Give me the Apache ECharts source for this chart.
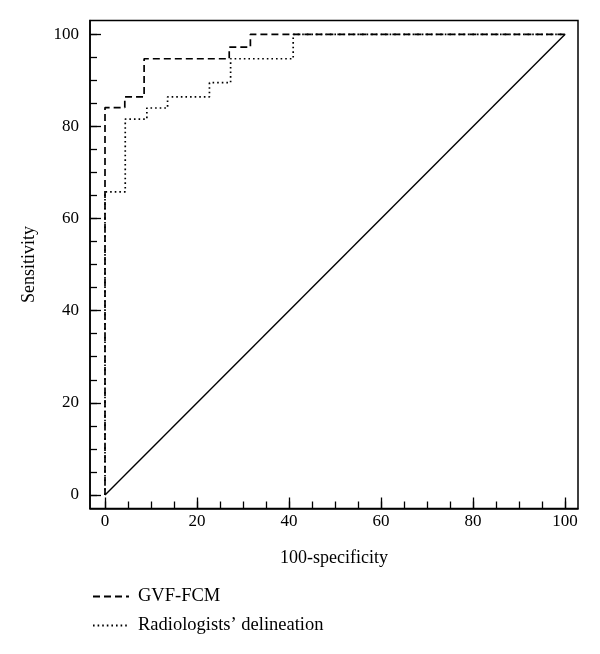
<!DOCTYPE html>
<html>
<head>
<meta charset="utf-8">
<script src="https://cdn.jsdelivr.net/npm/echarts@6/dist/echarts.min.js"></script>
<style>html,body{margin:0;padding:0;background:#fff}#c{width:600px;height:654px}</style>
</head>
<body>
<div id="c"></div>
<script>
// Data
var gvfX = [0, 0, 4.3, 4.3, 8.5, 8.5, 27.0, 27.0, 31.6, 31.6, 100];
var gvfY = [0, 84.1, 84.1, 86.4, 86.4, 94.7, 94.7, 97.2, 97.2, 100, 100];
var radX = [0, 0, 4.4, 4.4, 9.1, 9.1, 13.6, 13.6, 22.7, 22.7, 27.3, 27.3, 40.9, 40.9, 100];
var radY = [0, 65.8, 65.8, 81.6, 81.6, 84.0, 84.0, 86.4, 86.4, 89.5, 89.5, 94.7, 94.7, 100, 100];
var refX = [0, 100];
var refY = [0, 100];
var majorTicks = [0, 20, 40, 60, 80, 100];
var minorTicks = [0,5,10,15,20,25,30,35,40,45,50,55,60,65,70,75,80,85,90,95,100];
var seriesNames = ['GVF-FCM', "Radiologists\u2019 delineation"];
var xName = '100-specificity';
var yName = 'Sensitivity';

function pairs(xs, ys){ return xs.map(function(x,i){ return [x, ys[i]]; }); }

var FONT = 'Liberation Serif';
var chart = echarts.init(document.getElementById('c'), null, {renderer:'canvas'});
var axMin = -3.26, axMax = 102.8, ayMin = -2.95, ayMax = 103.0;
function baseAxis(isX, major){
  return {
    type: 'value', gridIndex: 0,
    min: isX ? axMin : ayMin, max: isX ? axMax : ayMax,
    position: isX ? 'bottom' : 'left',
    splitLine: {show:false},
    axisLine: {show: major, onZero:false, lineStyle:{color:'#000', width:1.5}},
    axisTick: {show:true, inside:true, length: major ? 11 : 7, customValues: major ? majorTicks : minorTicks,
      lineStyle:{color:'#000', width:1.3}},
    axisLabel: major ? {show:true, customValues: majorTicks, color:'#000', fontFamily:FONT, fontSize:17, margin: isX ? 5 : 11} : {show:false},
    name: major ? (isX ? xName : yName) : '',
    nameLocation: 'middle',
    nameGap: isX ? 41 : 52,
    nameTextStyle: {color:'#000', fontFamily:FONT, fontSize:18}
  };
}
chart.setOption({
  animation: false,
  backgroundColor: '#fff',
  grid: {left:90, top:20.5, width:488, height:488, show:true, borderColor:'#000', borderWidth:1.5, backgroundColor:'transparent'},
  xAxis: [baseAxis(true, true), baseAxis(true, false)],
  yAxis: [baseAxis(false, true), baseAxis(false, false)],
  legend: {
    orient:'vertical', left:87, top:582, itemWidth:36, itemHeight:14, itemGap:10,
    data: seriesNames,
    itemStyle: {opacity: 0},
    textStyle:{color:'#000', fontFamily:FONT, fontSize:18.5, padding:[0,0,0,4]}
  },
  series: [
    {name: seriesNames[0], type:'line', data: pairs(gvfX, gvfY), symbol:'none', silent:true,
      lineStyle:{color:'#000', width:1.7, type:[7,4]}, itemStyle:{color:'#000'}},
    {name: seriesNames[1], type:'line', data: pairs(radX, radY), symbol:'none', silent:true,
      lineStyle:{color:'#000', width:1.7, type:[1.6,3]}, itemStyle:{color:'#000'}},
    {name: 'ref', type:'line', data: pairs(refX, refY), symbol:'none', silent:true,
      lineStyle:{color:'#000', width:1.4, type:'solid'}, itemStyle:{color:'#000'}}
  ]
});
</script>
</body>
</html>
